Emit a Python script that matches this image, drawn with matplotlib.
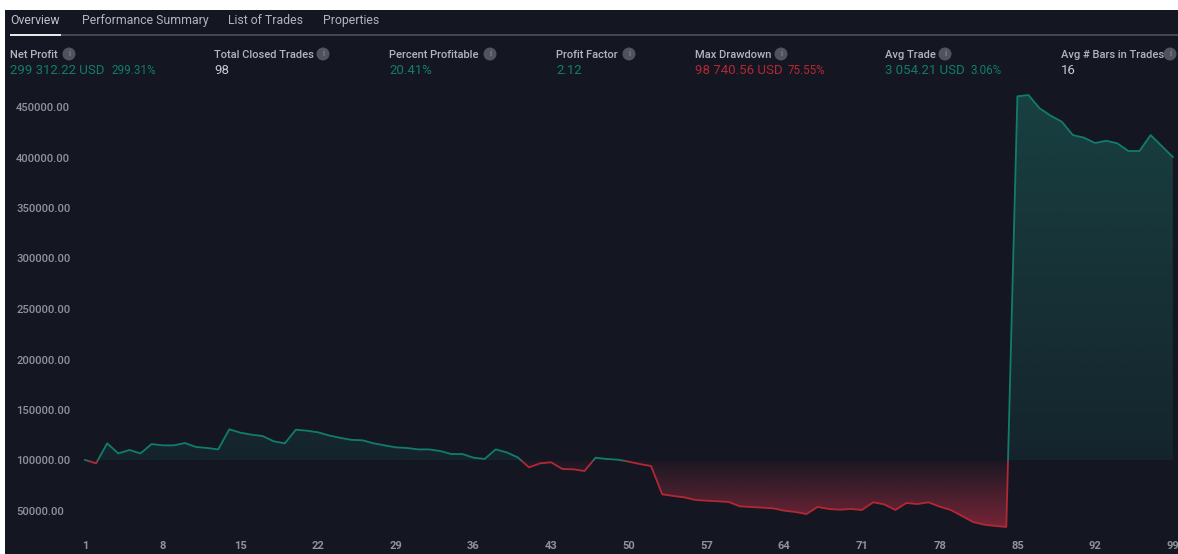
import numpy as np
import matplotlib
matplotlib.use('Agg')
import matplotlib.pyplot as plt
from matplotlib.patches import Circle, Rectangle
from matplotlib.path import Path

plt.rcParams['font.family'] = ['Roboto', 'DejaVu Sans']

# equity per trade
equity = [100500, 97200, 117000, 107000, 110400, 107000, 116300, 115000, 115000, 117300,
          113400, 112400, 111000, 130900, 127500, 125600, 124200, 119000, 117000, 130500,
          129500, 127900, 124750, 122400, 120460, 120000, 117000, 115000, 113000, 112400,
          111000, 111000, 109400, 106400, 106400, 102800, 101500, 111000, 108000, 103000,
          93200, 97200, 98200, 91600, 91250, 89600, 102800, 101500, 100800, 98800,
          96500, 94500, 66500, 64900, 63500, 60900, 60200, 59600, 58900, 54600,
          54000, 53300, 52600, 50300, 49000, 47000, 54000, 52000, 51300, 52000,
          51000, 58600, 56600, 51000, 57900, 56900, 58600, 54300, 51000, 45100,
          39100, 36500, 35200, 34200, 460600, 461800, 448700, 441400, 435400, 422200,
          419600, 414300, 416600, 414000, 406400, 406400, 422200, 411400, 400500]
trades = list(range(1, len(equity) + 1))
base = 100000

x_ticks = [1, 8, 15, 22, 29, 36, 43, 50, 57, 64, 71, 78, 85, 92, 99]
y_ticks = [50000, 100000, 150000, 200000, 250000, 300000, 350000, 400000, 450000]

tabs = ['Overview', 'Performance Summary', 'List of Trades', 'Properties']
tab_x = [10, 82, 228, 323]

stat_names = ['Net Profit', 'Total Closed Trades', 'Percent Profitable', 'Profit Factor',
              'Max Drawdown', 'Avg Trade', 'Avg # Bars in Trades']
stat_x = [10, 214, 389, 556, 695, 885, 1061]
stat_icon_x = [69, 323, 490, 629, 781, 945, 1170]
stat_vals = ['299 312.22 USD', '98', '20.41%', '2.12', '98 740.56 USD', '3 054.21 USD', '16']
stat_pcts = ['299.31%', '', '', '', '75.55%', '3.06%', '']
stat_pct_x = [111, 0, 0, 0, 788, 970, 0]

BG = '#141722'
GREEN = '#127c6c'
RED = '#b22833'
GREY = '#b2b5be'

W, H = 1178, 554
fig = plt.figure(figsize=(W / 100, H / 100), dpi=100, facecolor='white')

# main chart, placed in pixels: dark panel starts at x=5, y=10
ax = fig.add_axes([5 / W, 0, (W - 5) / W, (H - 10) / H], facecolor=BG)
px_per_trade = 11.1
px_per_usd = 50.5 / 50000
ax.set_xlim(1 + (5 - 85) / px_per_trade, 1 + (W - 85) / px_per_trade)
ax.set_ylim(100000 - (H - 460.5) / px_per_usd, 100000 + (460.5 - 10) / px_per_usd)
for s in ax.spines.values():
    s.set_visible(False)

ax.set_xticks(x_ticks)
ax.set_yticks(y_ticks)
ax.set_yticklabels(['%.2f' % v for v in y_ticks])
ax.tick_params(axis='x', length=0, direction='in', pad=-9.5, labelsize=8, labelcolor='#8f929b')
ax.tick_params(axis='y', length=0, direction='in', pad=-8, labelsize=8.1, labelcolor='#8f929b')
for t in ax.get_yticklabels():
    t.set_ha('left')
    t.set_fontweight('medium')
for t in ax.get_xticklabels():
    t.set_fontweight('bold')
# 99 runs past the right edge in the original too
ax.get_xticklabels()[-1].set_clip_on(True)

xa = np.array(trades)
ya = np.array(equity)
xlim = ax.get_xlim()
ylim = ax.get_ylim()


def gradient_fill(mask, c, a_start, a_end, y_start, y_end):
    poly = ax.fill_between(xa, ya, base, where=mask, interpolate=True, facecolor='none', edgecolor='none')
    clip = Path.make_compound_path(*poly.get_paths())
    rgba = np.zeros((256, 2, 4))
    rgba[..., :3] = matplotlib.colors.to_rgb(c)
    rgba[..., 3] = np.linspace(a_start, a_end, 256)[:, None]
    im = ax.imshow(rgba, extent=[xa[0], xa[-1], y_start, y_end], origin='lower',
                   aspect='auto', zorder=1, interpolation='bilinear')
    im.set_clip_path(clip, ax.transData)


gradient_fill(ya >= base, '#22a08c', 0.10, 0.30, base, max(equity))
gradient_fill(ya <= base, '#d0324a', 0.04, 0.52, base, min(equity))
ax.set_xlim(xlim)
ax.set_ylim(ylim)

# same line twice, coloured by which side of the start capital it is on
up, = ax.plot(trades, equity, color=GREEN, lw=1.3, zorder=3)
down, = ax.plot(trades, equity, color=RED, lw=1.3, zorder=3)
up.set_clip_path(Rectangle((xlim[0], base), xlim[1] - xlim[0], ylim[1] - base, transform=ax.transData))
down.set_clip_path(Rectangle((xlim[0], ylim[0]), xlim[1] - xlim[0], base - ylim[0], transform=ax.transData))

# header drawn on top, in pixel coords
top = fig.add_axes([0, 0, 1, 1], facecolor='none')
top.set_xlim(0, W)
top.set_ylim(H, 0)
top.axis('off')

top.add_patch(Rectangle((10, 33.5), W - 10, 2.5, color='#434651', lw=0))
top.add_patch(Rectangle((10, 33.5), 51, 2.5, color='#e6e7ea', lw=0))
for i, name in enumerate(tabs):
    top.text(tab_x[i], 20.5, name, color='#c0c2c9' if i == 0 else GREY, fontsize=8.8, va='center')

for i, name in enumerate(stat_names):
    top.text(stat_x[i], 54.5, name, color=GREY, fontsize=8, fontweight='medium', va='center')
    top.add_patch(Circle((stat_icon_x[i], 54), 6.5, color='#50535e', lw=0))
    top.text(stat_icon_x[i], 54, 'i', color='#8f929b', fontsize=6.5, ha='center', va='center')
    if i in (1, 6):
        col = '#c8cad0'
    elif i == 4:
        col = RED
    else:
        col = GREEN
    top.text(stat_x[i], 70, stat_vals[i], color=col, fontsize=9.5, va='center')
    if stat_pcts[i]:
        top.text(stat_pct_x[i], 71, stat_pcts[i], color=col, fontsize=8.4, va='center')

fig.savefig('out.png', dpi=100, facecolor='white')
